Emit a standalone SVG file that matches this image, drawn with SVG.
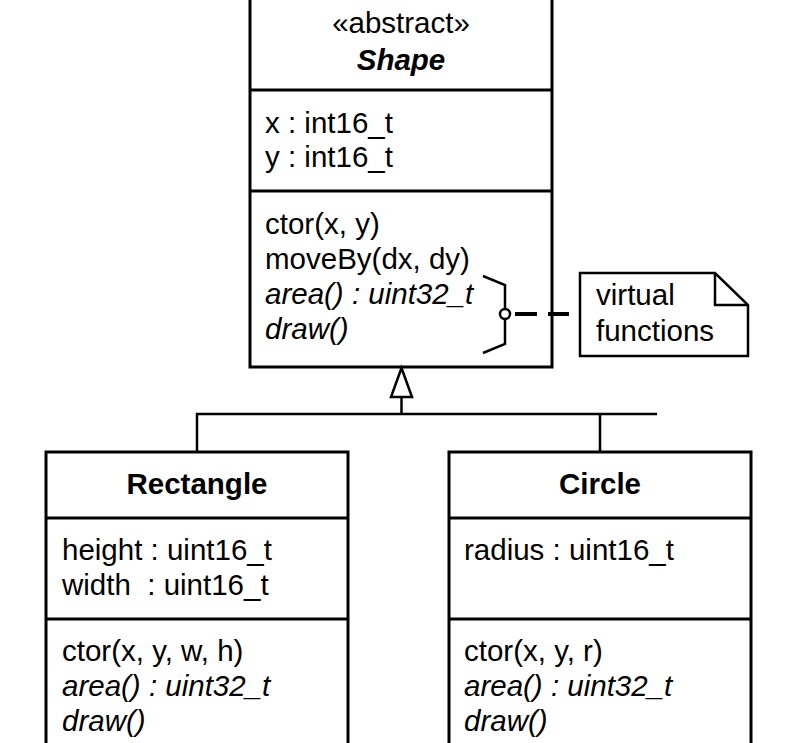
<svg xmlns="http://www.w3.org/2000/svg" width="804" height="743" viewBox="0 0 804 743">
<style>
.box{fill:#fff;stroke:#000;stroke-width:3}
.div{stroke:#000;stroke-width:3}
.t{font-family:"Liberation Sans",Arial,sans-serif;font-size:29.5px;fill:#000}
.i{font-style:italic}
.b{font-weight:bold}
.c{text-anchor:middle}
.ln{fill:none;stroke:#000;stroke-width:2.5}
</style>
<rect width="804" height="743" fill="#fff"/>
<g id="shape">
<rect class="box" x="250" y="-10" width="302" height="377"/>
<line class="div" x1="250" y1="90" x2="552" y2="90"/>
<line class="div" x1="250" y1="191" x2="552" y2="191"/>
<text class="t c" x="401" y="33">«abstract»</text>
<text class="t c i b" x="401" y="70">Shape</text>
<text class="t" x="265" y="133">x : int16_t</text>
<text class="t" x="265" y="167">y : int16_t</text>
<text class="t" x="265" y="234">ctor(x, y)</text>
<text class="t" x="265" y="269">moveBy(dx, dy)</text>
<text class="t i" x="265" y="304">area() : uint32_t</text>
<text class="t i" x="265" y="339">draw()</text>
</g>
<g id="note">
<path d="M580,273 H715 L748,305 V356 H580 Z" fill="#fff" stroke="#000" stroke-width="2.5"/>
<path d="M715,273 V305 H748" fill="none" stroke="#000" stroke-width="2.5"/>
<text class="t" x="596" y="305">virtual</text>
<text class="t" x="596" y="341">functions</text>
</g>
<g id="rectangle">
<rect class="box" x="46" y="452" width="302" height="300"/>
<line class="div" x1="46" y1="518" x2="348" y2="518"/>
<line class="div" x1="46" y1="619" x2="348" y2="619"/>
<text class="t c b" x="197" y="494">Rectangle</text>
<text class="t" x="62" y="560">height : uint16_t</text>
<text class="t" x="62" y="595" xml:space="preserve">width  : uint16_t</text>
<text class="t" x="62" y="661">ctor(x, y, w, h)</text>
<text class="t i" x="62" y="696">area() : uint32_t</text>
<text class="t i" x="62" y="731">draw()</text>
</g>
<g id="circle">
<rect class="box" x="449" y="452" width="302" height="300"/>
<line class="div" x1="449" y1="518" x2="751" y2="518"/>
<line class="div" x1="449" y1="619" x2="751" y2="619"/>
<text class="t c b" x="600" y="494">Circle</text>
<text class="t" x="464" y="560">radius : uint16_t</text>
<text class="t" x="464" y="661">ctor(x, y, r)</text>
<text class="t i" x="464" y="696">area() : uint32_t</text>
<text class="t i" x="464" y="731">draw()</text>
</g>
<g id="connectors">
<path class="ln" d="M197,451 V414 H657 M600,414 V451 M401.5,414 V397"/>
<polygon points="401.5,368 391,397 412,397" fill="#fff" stroke="#000" stroke-width="2.5"/>
<path class="ln" d="M483,276 L505,285 V344 L483,353"/>
<circle cx="505" cy="314" r="5" fill="#fff" stroke="#000" stroke-width="2.5"/>
<path d="M515,314 H537 M548,314 H569" stroke="#000" stroke-width="4" fill="none"/>
</g>
</svg>
